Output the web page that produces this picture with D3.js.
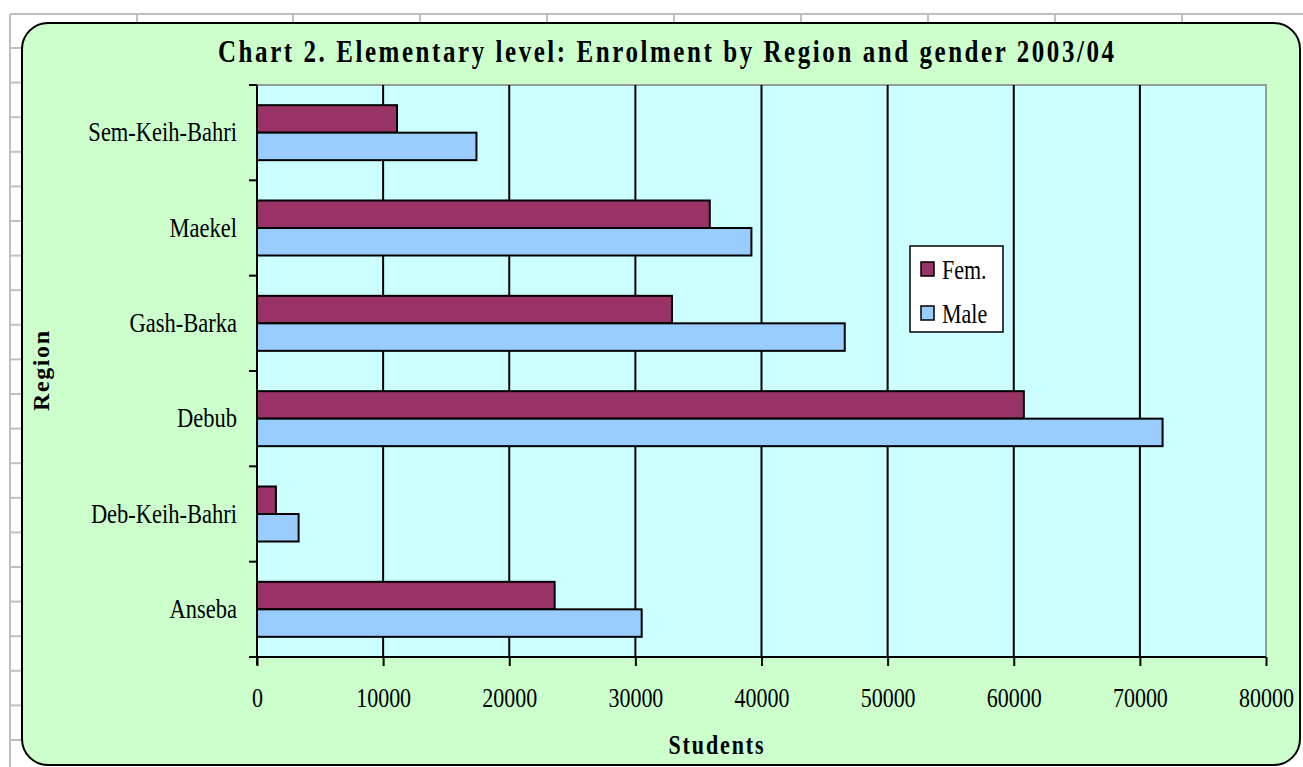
<!DOCTYPE html>
<html>
<head>
<meta charset="utf-8">
<script src="https://cdn.jsdelivr.net/npm/d3@7"></script>
<style>
  body { margin: 0; background: #fff; }
  text { font-family: "Liberation Serif", "Times New Roman", serif; }
</style>
</head>
<body>
<div id="chart"></div>
<script>
// regions in the order they appear top to bottom
const regions = ['Sem-Keih-Bahri', 'Maekel', 'Gash-Barka', 'Debub', 'Deb-Keih-Bahri', 'Anseba'];
const femValues = [11100, 35900, 32900, 60800, 1500, 23600];
const maleValues = [17400, 39200, 46600, 71800, 3300, 30500];
const seriesNames = ['Fem.', 'Male'];
const seriesColors = ['#993366', '#99CCFF'];
const xTicks = [0, 10000, 20000, 30000, 40000, 50000, 60000, 70000, 80000];

const W = 1303, H = 767;
const stretch = 1.25; // the original text is drawn a bit tall and narrow
const svg = d3.select('#chart').append('svg').attr('width', W).attr('height', H);

// spreadsheet grid behind the chart
const sheet = svg.append('g').attr('stroke', '#c0c0c0').attr('stroke-width', 2);
sheet.append('line').attr('x1', 10).attr('x2', W).attr('y1', 14).attr('y2', 14);
sheet.append('line').attr('x1', 10).attr('x2', 10).attr('y1', 14).attr('y2', H);
[137].concat(d3.range(293, W, 127)).forEach(x => {
  sheet.append('line').attr('x1', x).attr('x2', x).attr('y1', 14).attr('y2', 24);
});
d3.range(48, H, 34.6).forEach(y => {
  sheet.append('line').attr('x1', 10).attr('x2', 22).attr('y1', y).attr('y2', y);
});

// chart area
svg.append('rect')
  .attr('x', 22).attr('y', 23).attr('width', 1278).attr('height', 742)
  .attr('rx', 26).attr('ry', 26)
  .attr('fill', '#CCFFCC').attr('stroke', '#000').attr('stroke-width', 2);

const margin = { top: 85, left: 257, right: 1266, bottom: 657 };

const xScale = d3.scaleLinear().domain([0, 80000]).range([margin.left, margin.right]);
const yScale = d3.scaleBand().domain(regions).range([margin.top, margin.bottom]);
const barH = 27.5;

// text helper, y is the vertical middle of the capitals
function label(g, x, cy, txt, size, anchor) {
  return g.append('text')
    .attr('transform', `translate(${x}, ${cy}) scale(1, ${stretch})`)
    .attr('dy', '0.34em')
    .attr('text-anchor', anchor || 'start')
    .attr('font-size', size)
    .text(txt);
}

// plot area
svg.append('rect')
  .attr('x', margin.left).attr('y', margin.top)
  .attr('width', margin.right - margin.left).attr('height', margin.bottom - margin.top)
  .attr('fill', '#CCFFFF').attr('stroke', '#808080').attr('stroke-width', 1.5);

// grid lines
svg.append('g').selectAll('line')
  .data(xTicks.slice(1, -1))
  .enter().append('line')
  .attr('x1', d => xScale(d)).attr('x2', d => xScale(d))
  .attr('y1', margin.top).attr('y2', margin.bottom)
  .attr('stroke', '#000').attr('stroke-width', 2);

// bars
const allSeries = [femValues, maleValues];
allSeries.forEach((vals, s) => {
  svg.append('g').selectAll('rect')
    .data(vals)
    .enter().append('rect')
    .attr('x', xScale(0))
    .attr('y', (d, i) => yScale(regions[i]) + yScale.bandwidth() / 2 - barH + s * barH)
    .attr('width', d => xScale(d) - xScale(0))
    .attr('height', barH)
    .attr('fill', seriesColors[s])
    .attr('stroke', '#000').attr('stroke-width', 2);
});

// x axis
const xAxis = svg.append('g')
  .attr('transform', `translate(0, ${margin.bottom})`)
  .call(d3.axisBottom(xScale).tickValues(xTicks).tickSize(9).tickFormat(d3.format('d')));
xAxis.select('.domain').attr('stroke', '#000').attr('stroke-width', 2).attr('d', `M${margin.left},0H${margin.right}`);
xAxis.selectAll('.tick line').attr('stroke', '#000').attr('stroke-width', 2);
xAxis.selectAll('.tick text')
  .attr('y', 0).attr('dy', '0.34em')
  .attr('transform', `translate(0, 40.5) scale(1, ${stretch})`)
  .attr('font-size', 22).attr('fill', '#000')
  .style('font-family', '"Liberation Serif", serif');

// y axis: ticks on band boundaries
const yAxisG = svg.append('g');
yAxisG.append('line')
  .attr('x1', margin.left).attr('x2', margin.left)
  .attr('y1', margin.top).attr('y2', margin.bottom + 8)
  .attr('stroke', '#000').attr('stroke-width', 2);
yAxisG.selectAll('.btick')
  .data(regions.concat(['end']))
  .enter().append('line')
  .attr('x1', margin.left - 8).attr('x2', margin.left)
  .attr('y1', (d, i) => i < regions.length ? yScale(d) : margin.bottom)
  .attr('y2', (d, i) => i < regions.length ? yScale(d) : margin.bottom)
  .attr('stroke', '#000').attr('stroke-width', 2);
regions.forEach(r => {
  label(yAxisG, 237, yScale(r) + yScale.bandwidth() / 2 - 1, r, 22.5, 'end');
});

// titles
label(svg, 666, 51.5, 'Chart 2. Elementary level: Enrolment by Region and gender 2003/04', 25, 'middle')
  .attr('font-weight', 'bold')
  .attr('textLength', 896).attr('lengthAdjust', 'spacing');

label(svg, 716, 745, 'Students', 22, 'middle')
  .attr('font-weight', 'bold')
  .attr('textLength', 95).attr('lengthAdjust', 'spacing');

svg.append('text')
  .attr('transform', 'translate(49, 371) rotate(-90)')
  .attr('text-anchor', 'middle')
  .attr('font-size', 24).attr('font-weight', 'bold')
  .attr('textLength', 80).attr('lengthAdjust', 'spacing')
  .text('Region');

// legend
const legend = svg.append('g');
legend.append('rect')
  .attr('x', 910).attr('y', 246).attr('width', 93).attr('height', 86)
  .attr('fill', '#fff').attr('stroke', '#000').attr('stroke-width', 1.5);
seriesNames.forEach((name, i) => {
  legend.append('rect')
    .attr('x', 921).attr('y', 262 + i * 44).attr('width', 13).attr('height', 14)
    .attr('fill', seriesColors[i]).attr('stroke', '#000').attr('stroke-width', 1.5);
  label(legend, 942, 270 + i * 44, name, 22);
});
</script>
</body>
</html>
